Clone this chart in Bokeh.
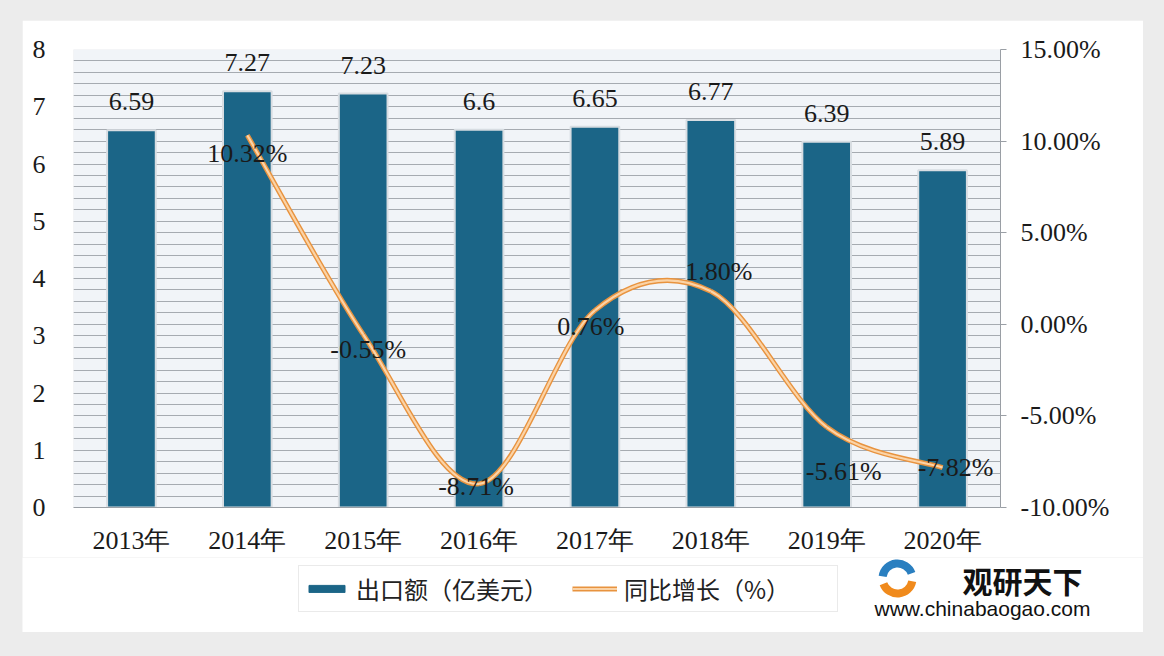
from bokeh.plotting import figure
from bokeh.layouts import column
from bokeh.models import (Range1d, LinearAxis, FixedTicker, PrintfTickFormatter,
                          Legend, LegendItem)
from bokeh.core.properties import value
from bokeh.embed import file_html
from bokeh.resources import INLINE

# ---------------- data ----------------
YEARS = ["2013年", "2014年", "2015年", "2016年", "2017年", "2018年", "2019年", "2020年"]
EXPORT = [6.59, 7.27, 7.23, 6.6, 6.65, 6.77, 6.39, 5.89]          # 出口额（亿美元）
GROWTH_YEARS = ["2014年", "2015年", "2016年", "2017年", "2018年", "2019年", "2020年"]
GROWTH = [10.32, -0.55, -8.71, 0.76, 1.80, -5.61, -7.82]           # 同比增长（%）
LEFT_TICKS = [0, 1, 2, 3, 4, 5, 6, 7, 8]
RIGHT_TICKS = [-10, -5, 0, 5, 10, 15]
SERIES_NAMES = ["出口额（亿美元）", "同比增长（%）"]

# ---------------- style ----------------
BAR_COLOR = "#1b6587"
LINE_DARK = "#e8933f"
LINE_LIGHT = "#fbd3a6"
SERIF = "Liberation Serif"
CJK = "Noto Sans CJK SC"
TXT = "#1a1a1a"
# pixel offsets of the growth labels (dx, dy)
LBL_DX = [0, 5, -3, -4, 8, 17, 13]
LBL_DY = [18, 15, 3, 16, -20, 44, 0]

xs = list(range(len(YEARS)))
gx = [YEARS.index(y) for y in GROWTH_YEARS]

p = figure(width=1121, height=537, x_range=Range1d(-0.5, len(YEARS) - 0.5),
           y_range=Range1d(0, 8), output_backend="svg", toolbar_location=None,
           min_border_left=51, min_border_right=143, min_border_top=29,
           min_border_bottom=50, background_fill_color="#f1f4f8",
           border_fill_color="white", outline_line_color=None)
p.frame_align = False
p.extra_y_ranges = {"pct": Range1d(-10, 15)}

# left axis
ly = p.yaxis[0]
ly.ticker = FixedTicker(ticks=LEFT_TICKS, minor_ticks=[i / 5 for i in range(41)])
ly.axis_line_color = None
ly.major_tick_line_color = None
ly.minor_tick_line_color = None
ly.major_label_text_font = SERIF
ly.major_label_text_font_size = "26px"
ly.major_label_text_color = TXT
ly.major_label_standoff = 22

p.ygrid.grid_line_color = "#a6abb1"
p.ygrid.minor_grid_line_color = "#a6abb1"
p.xgrid.grid_line_color = None

# x axis
xa = p.xaxis[0]
xa.ticker = FixedTicker(ticks=xs)
xa.major_label_overrides = {i: YEARS[i] for i in xs}
xa.axis_line_color = "#9a9fa5"
xa.major_tick_line_color = None
xa.minor_tick_line_color = None
xa.major_label_text_font = SERIF
xa.major_label_text_font_size = "26px"
xa.major_label_text_color = TXT
xa.major_label_standoff = 12

# right axis
ra = LinearAxis(y_range_name="pct", ticker=FixedTicker(ticks=RIGHT_TICKS),
                formatter=PrintfTickFormatter(format="%.2f%%"))
ra.axis_line_color = "#9a9fa5"
ra.major_tick_line_color = "#9a9fa5"
ra.major_tick_in = 0
ra.major_tick_out = 6
ra.minor_tick_line_color = None
ra.major_label_text_font = SERIF
ra.major_label_text_font_size = "26px"
ra.major_label_text_color = TXT
ra.major_label_standoff = 14
p.add_layout(ra, "right")

# bars
p.vbar(x=xs, top=EXPORT, width=0.42, fill_color=BAR_COLOR,
       line_color="#d8dde2", line_width=2)

# smooth growth line (Catmull-Rom style bezier through the data points)
n = len(GROWTH)
x0, y0, x1, y1, cx0, cy0, cx1, cy1 = [], [], [], [], [], [], [], []
for i in range(n - 1):
    a = max(i - 1, 0)
    d = min(i + 2, n - 1)
    x0.append(gx[i]); y0.append(GROWTH[i])
    x1.append(gx[i + 1]); y1.append(GROWTH[i + 1])
    cx0.append(gx[i] + (gx[i + 1] - gx[a]) / 6)
    cy0.append(GROWTH[i] + (GROWTH[i + 1] - GROWTH[a]) / 6)
    cx1.append(gx[i + 1] - (gx[d] - gx[i]) / 6)
    cy1.append(GROWTH[i + 1] - (GROWTH[d] - GROWTH[i]) / 6)

p.bezier(x0=x0, y0=y0, x1=x1, y1=y1, cx0=cx0, cy0=cy0, cx1=cx1, cy1=cy1,
         y_range_name="pct", line_color=LINE_DARK, line_width=5)
p.bezier(x0=x0, y0=y0, x1=x1, y1=y1, cx0=cx0, cy0=cy0, cx1=cx1, cy1=cy1,
         y_range_name="pct", line_color=LINE_LIGHT, line_width=2.2)

# data labels
p.text(x=xs, y=EXPORT, text=[str(v) for v in EXPORT], y_offset=-20,
       text_baseline="bottom", text_align="center", text_font=value(SERIF),
       text_font_size="26px", text_color=TXT)
p.text(x=gx, y=GROWTH, text=[f"{v:.2f}%" for v in GROWTH], x_offset=LBL_DX,
       y_offset=LBL_DY, y_range_name="pct", text_baseline="middle",
       text_align="center", text_font=value(SERIF), text_font_size="26px",
       text_color=TXT)

# ---------------- legend / watermark band ----------------
p2 = figure(width=1121, height=75, x_range=Range1d(0, 1121), y_range=Range1d(0, 75),
            x_axis_type=None, y_axis_type=None,
            output_backend="svg", toolbar_location=None, min_border=0,
            border_fill_color="white", background_fill_color="white",
            outline_line_color=None)
p2.frame_align = False
p2.grid.visible = False

# legend proxies (kept outside the visible band)
lb = p2.vbar(x=[-50], top=[-50], width=1, fill_color=BAR_COLOR, line_color=BAR_COLOR)
ll1 = p2.line(x=[-50, -40], y=[-50, -50], line_color=LINE_DARK, line_width=5)
ll2 = p2.line(x=[-50, -40], y=[-50, -50], line_color=LINE_LIGHT, line_width=2.2)

legend = Legend(items=[LegendItem(label=SERIES_NAMES[0], renderers=[lb]),
                       LegendItem(label=SERIES_NAMES[1], renderers=[ll1, ll2])],
                orientation="horizontal", location=(276, 20),
                label_text_font=CJK, label_text_font_size="24px",
                label_text_color="#222222", glyph_width=45, glyph_height=9,
                label_width=208, label_standoff=7, spacing=8, padding=5,
                border_line_color="#d6d6d6", background_fill_color="white")
p2.add_layout(legend, "center")

# logo + site text
p2.annular_wedge(x=[875], y=[54], inner_radius=11, outer_radius=19,
                 inner_radius_units="screen", outer_radius_units="screen",
                 start_angle=0.35, end_angle=3.0, fill_color="#2a7fc0", line_color=None)
p2.annular_wedge(x=[875], y=[54], inner_radius=11, outer_radius=19,
                 inner_radius_units="screen", outer_radius_units="screen",
                 start_angle=3.5, end_angle=6.1, fill_color="#f08a1c", line_color=None)
p2.text(x=[1000], y=[53], text=["观研天下"], text_font=value(CJK),
        text_font_style="bold", text_font_size="30px", text_align="center",
        text_baseline="middle", text_color="#111111")
p2.text(x=[960], y=[24], text=["www.chinabaogao.com"],
        text_font=value("Liberation Sans"), text_font_size="21px",
        text_align="center", text_baseline="middle", text_color="#111111")

layout = column(p, p2, spacing=0, margin=(20, 0, 0, 22))

html = file_html(layout, INLINE)
i = html.rfind("<body")
html = html[:i] + '<body style="background-color:#ececec"' + html[i + 5:]
open("out.html", "w").write(html)
